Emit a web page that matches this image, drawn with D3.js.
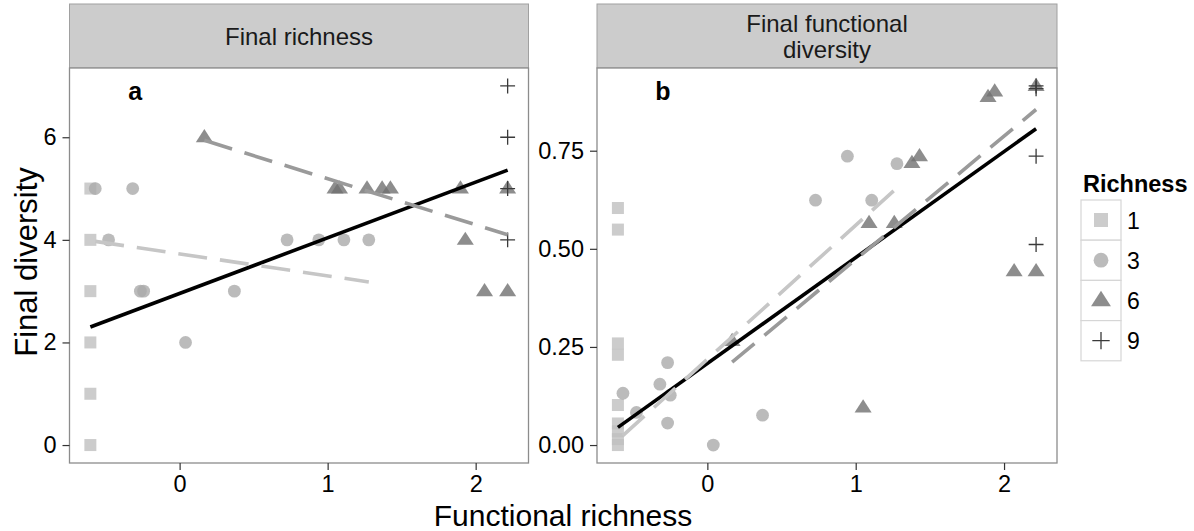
<!DOCTYPE html>
<html>
<head>
<meta charset="utf-8">
<script src="https://cdn.jsdelivr.net/npm/d3@7"></script>
<style>
  body { margin: 0; background: #fff; }
  svg { font-family: "Liberation Sans", Arial, sans-serif; }
  .axis text { fill: #000; font-size: 23.5px; }
  .axis line { stroke: #333; stroke-width: 1.2; }
  .axis path { display: none; }
</style>
</head>
<body>
<div id="chart"></div>
<script>

// ---- data ----
const richnessLevels = ["1", "3", "6", "9"];
const xTicks = [0, 1, 2];
const richTicks = [0, 2, 4, 6];
const fdTicks = [0, 0.25, 0.5, 0.75];
const stripTitles = [["Final richness"], ["Final functional", "diversity"]];
const panelTags = ["a", "b"];

// panel a: final richness vs functional richness, one array per richness level
const richR1 = [[-0.603, 0], [-0.603, 1], [-0.603, 2], [-0.603, 3], [-0.603, 4], [-0.603, 5]];
const richR3 = [[-0.57, 5], [-0.317, 5], [-0.48, 4], [-0.265, 3], [-0.243, 3], [0.04, 2],
    [0.37, 3], [0.726, 4], [0.94, 4], [1.11, 4], [1.278, 4]];
const richR6 = [[0.167, 6], [1.05, 5], [1.08, 5], [1.266, 5], [1.368, 5], [1.424, 5],
    [1.897, 5], [1.93, 4], [2.06, 3], [2.216, 3], [2.216, 5]];
const richR9 = [[2.216, 4], [2.216, 5], [2.216, 6], [2.216, 7]];

// panel b: final functional diversity vs functional richness
const fdR1 = [[-0.603, 0.604], [-0.603, 0.549], [-0.603, 0.259], [-0.603, 0.230], [-0.603, 0.102],
    [-0.603, 0.055], [-0.603, 0.035], [-0.603, 0.015], [-0.603, 0.0]];
const fdR3 = [[-0.569, 0.132], [-0.478, 0.083], [-0.32, 0.155], [-0.268, 0.21], [-0.25, 0.127],
    [-0.268, 0.056], [0.04, 0.0], [0.372, 0.076], [0.729, 0.624], [0.944, 0.736], [1.108, 0.624], [1.278, 0.717]];
const fdR6 = [[0.167, 0.265], [1.05, 0.096], [1.09, 0.566], [1.26, 0.566], [1.379, 0.719], [1.43, 0.736],
    [1.892, 0.887], [1.937, 0.901], [2.068, 0.443], [2.216, 0.443], [2.216, 0.915]];
const fdR9 = [[2.216, 0.915], [2.216, 0.908], [2.216, 0.736], [2.216, 0.511]];

// fitted lines (endpoints as drawn): overall, richness 3, richness 6
const richFits = [
    {group: "all", pts: [[-0.603, 2.30], [2.216, 5.36]]},
    {group: "3", pts: [[-0.57, 3.97], [1.278, 3.18]]},
    {group: "6", pts: [[0.167, 5.94], [2.216, 4.10]]}
];
const fdFits = [
    {group: "all", pts: [[-0.603, 0.045], [2.216, 0.806]]},
    {group: "3", pts: [[-0.57, 0.024], [1.278, 0.655]]},
    {group: "6", pts: [[0.167, 0.211], [2.216, 0.855]]}
];

// ---- layout ----
const width = 1194, height = 531;
const svg = d3.select("#chart").append("svg")
    .attr("width", width)
    .attr("height", height);

const panels = [
    {left: 69.5, right: 528.5, groups: [richR1, richR3, richR6, richR9], fits: richFits, ticks: richTicks, fmt: d3.format("d")},
    {left: 597, right: 1057, groups: [fdR1, fdR3, fdR6, fdR9], fits: fdFits, ticks: fdTicks, fmt: d3.format(".2f")}
];
const stripTop = 4, plotTop = 68, plotBottom = 463;

// point styles per richness level
const fills = {"1": "#bfbfbf", "3": "#aaaaaa", "6": "#707070", "9": "#3a3a3a"};
const lineColors = {"all": "#000", "3": "#c6c6c6", "6": "#9a9a9a"};

function expand(ext) {
    let pad = (ext[1] - ext[0]) * 0.05;
    return [ext[0] - pad, ext[1] + pad];
}

// shared x domain across the two panels
let allX = panels.flatMap(p => p.groups.flat().map(d => d[0]));
let xDomain = expand(d3.extent(allX));

function drawSymbol(g, level, size) {
    let s = size;
    if (level === "1") {
        g.append("rect").attr("x", -s / 2).attr("y", -s / 2).attr("width", s).attr("height", s)
            .attr("fill", fills[level]).attr("fill-opacity", 0.8);
    } else if (level === "3") {
        g.append("circle").attr("r", s / 2 + 0.4)
            .attr("fill", fills[level]).attr("fill-opacity", 0.8);
    } else if (level === "6") {
        let w = s * 1.42, h = s * 1.1;
        g.append("path").attr("d", `M0,${-h * 0.62}L${w / 2},${h * 0.38}L${-w / 2},${h * 0.38}Z`)
            .attr("fill", fills[level]).attr("fill-opacity", 0.8);
    } else {
        let r = s * 0.62;
        g.append("path").attr("d", `M${-r},0H${r}M0,${-r}V${r}`)
            .attr("stroke", fills[level]).attr("stroke-width", 1.3).attr("fill", "none");
    }
}

panels.forEach((p, i) => {
    let x = d3.scaleLinear().domain(xDomain).range([p.left, p.right]);
    let yVals = p.groups.flat().map(d => d[1]);
    let y = d3.scaleLinear().domain(expand(d3.extent(yVals))).range([plotBottom, plotTop]);

    // strip
    svg.append("rect")
        .attr("x", p.left).attr("y", stripTop)
        .attr("width", p.right - p.left).attr("height", plotTop - stripTop)
        .attr("fill", "#cccccc").attr("stroke", "#a0a0a0").attr("stroke-width", 1);
    let lines = stripTitles[i];
    let lh = 26, cap = 17;
    let firstBase = (stripTop + plotTop) / 2 - (cap + lh * (lines.length - 1)) / 2 + cap;
    lines.forEach((t, j) => {
        svg.append("text")
            .attr("x", (p.left + p.right) / 2)
            .attr("y", firstBase + j * lh)
            .attr("text-anchor", "middle")
            .attr("font-size", 24)
            .attr("fill", "#1a1a1a")
            .text(t);
    });

    // panel background
    svg.append("rect")
        .attr("x", p.left).attr("y", plotTop)
        .attr("width", p.right - p.left).attr("height", plotBottom - plotTop)
        .attr("fill", "#fff");

    // points
    let pg = svg.append("g");
    p.groups.forEach((grp, k) => {
        let level = richnessLevels[k];
        grp.forEach(d => {
            let g = pg.append("g").attr("transform", `translate(${x(d[0])},${y(d[1])})`);
            drawSymbol(g, level, 12);
        });
    });

    // fitted lines
    let line = d3.line().x(d => x(d[0])).y(d => y(d[1]));
    p.fits.forEach(f => {
        svg.append("path")
            .attr("d", line(f.pts))
            .attr("fill", "none")
            .attr("stroke", lineColors[f.group])
            .attr("stroke-width", 3.6)
            .attr("stroke-dasharray", f.group === "all" ? null : "29,13");
    });

    // panel tag
    svg.append("text")
        .attr("x", x(-0.3))
        .attr("y", 100)
        .attr("text-anchor", "middle")
        .attr("font-size", 25)
        .attr("font-weight", "bold")
        .text(panelTags[i]);

    // border
    svg.append("rect")
        .attr("x", p.left).attr("y", plotTop)
        .attr("width", p.right - p.left).attr("height", plotBottom - plotTop)
        .attr("fill", "none").attr("stroke", "#8c8c8c").attr("stroke-width", 1.3);

    // axes
    svg.append("g").attr("class", "axis")
        .attr("transform", `translate(${p.left},0)`)
        .call(d3.axisLeft(y).tickValues(p.ticks).tickFormat(p.fmt).tickSize(7).tickPadding(6));
    svg.append("g").attr("class", "axis")
        .attr("transform", `translate(0,${plotBottom})`)
        .call(d3.axisBottom(x).tickValues(xTicks).tickFormat(d3.format("d")).tickSize(7).tickPadding(5));
});

// axis titles
svg.append("text")
    .attr("x", 563).attr("y", 526)
    .attr("text-anchor", "middle")
    .attr("font-size", 30)
    .text("Functional richness");
svg.append("text")
    .attr("transform", "translate(37,262) rotate(-90)")
    .attr("text-anchor", "middle")
    .attr("font-size", 31)
    .text("Final diversity");

// legend
let leg = svg.append("g").attr("transform", "translate(1081,200)");
leg.append("text")
    .attr("x", 2).attr("y", -8)
    .attr("font-size", 23.5)
    .attr("font-weight", "bold")
    .text("Richness");
richnessLevels.forEach((lv, k) => {
    let row = leg.append("g").attr("transform", `translate(0,${k * 40.2})`);
    row.append("rect")
        .attr("width", 40).attr("height", 40.2)
        .attr("fill", "#fff").attr("stroke", "#d6d6d6").attr("stroke-width", 1.2);
    let g = row.append("g").attr("transform", "translate(20,20)");
    drawSymbol(g, lv, 14);
    row.append("text")
        .attr("x", 46).attr("y", 28.5)
        .attr("font-size", 23)
        .text(lv);
});

</script>
</body>
</html>
